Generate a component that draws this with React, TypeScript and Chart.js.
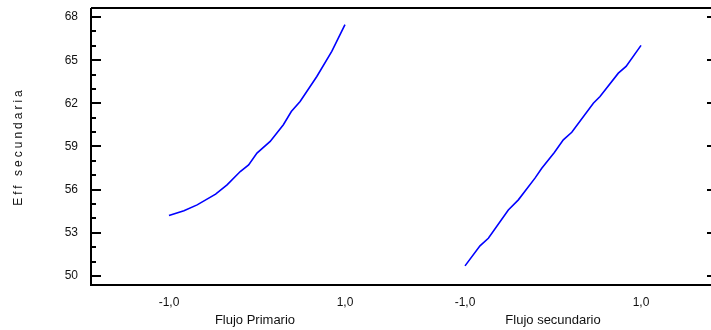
import React, { useEffect, useRef } from "react";
import { Chart, registerables } from "chart.js";

Chart.register(...registerables);

// Factor names and coded levels
const factorNames = ["Flujo Primario", "Flujo secundario"];
const levelTicks = [-1, 1];

// Main effect curves (coded factor level -> Eff secundaria)
const primarioX = [-1, -0.83, -0.68, -0.47, -0.34, -0.19, -0.095, 0.0, 0.15, 0.3, 0.39, 0.49, 0.68, 0.85, 1];
const primarioY = [54.2, 54.54, 54.94, 55.69, 56.33, 57.26, 57.72, 58.54, 59.35, 60.51, 61.43, 62.13, 63.87, 65.61, 67.47];
const secundarioX = [-1, -0.83, -0.735, -0.508, -0.394, -0.205, -0.128, 0.015, 0.117, 0.213, 0.458, 0.534, 0.742, 0.83, 1];
const secundarioY = [50.7, 52.09, 52.62, 54.59, 55.29, 56.8, 57.49, 58.58, 59.46, 59.99, 62.01, 62.48, 64.1, 64.57, 66.03];

// Y axis
const yTicks = [50, 53, 56, 59, 62, 65, 68];
const yMin = 49.37;
const yMax = 68.63;
const yTitle = "Eff secundaria";

// layout of the factor panels along one shared axis
const PANEL_OFFSET = 3.364;
const X_MIN = -1.886;
const X_MAX = 5.159;

const FONT = "'Liberation Sans', Arial, sans-serif";

const fmt = (v: number) => v.toFixed(1).replace(".", ",");

const decorPlugin = {
  id: "decor",
  afterDraw(chart: any) {
    const ctx = chart.ctx as CanvasRenderingContext2D;
    const { left, top, right, bottom } = chart.chartArea;
    const xs = chart.scales.x;
    const ys = chart.scales.y;
    ctx.save();
    ctx.strokeStyle = "#000";
    ctx.lineWidth = 2;
    ctx.beginPath();
    ctx.moveTo(left, top);
    ctx.lineTo(right, top);
    ctx.moveTo(left, top);
    ctx.lineTo(left, bottom);
    ctx.lineTo(right, bottom);
    ctx.stroke();
    // left ticks: majors and minors
    for (let v = Math.ceil(yMin); v <= Math.floor(yMax); v++) {
      const y = Math.round(ys.getPixelForValue(v));
      const major = yTicks.includes(v);
      ctx.beginPath();
      ctx.moveTo(left, y);
      ctx.lineTo(left + (major ? 10 : 5), y);
      ctx.stroke();
    }
    // right ticks
    yTicks.forEach((v) => {
      const y = Math.round(ys.getPixelForValue(v));
      ctx.beginPath();
      ctx.moveTo(right - 4, y);
      ctx.lineTo(right, y);
      ctx.stroke();
    });
    // factor names
    ctx.fillStyle = "#111";
    ctx.font = `13px ${FONT}`;
    ctx.textAlign = "center";
    ctx.textBaseline = "alphabetic";
    factorNames.forEach((name, i) => {
      const x = xs.getPixelForValue(i * PANEL_OFFSET);
      ctx.fillText(name, x - (i === 0 ? 2 : 0), 324);
    });
    // y title
    ctx.translate(22, 148);
    ctx.rotate(-Math.PI / 2);
    ctx.font = `12px ${FONT}`;
    (ctx as any).letterSpacing = "3px";
    ctx.textAlign = "center";
    ctx.fillText(yTitle, 1.5, 0);
    ctx.restore();
  },
};

export default function App() {
  const ref = useRef<HTMLCanvasElement | null>(null);
  useEffect(() => {
    if (!ref.current) return;
    const d1 = primarioX.map((x, i) => ({ x, y: primarioY[i] }));
    const d2 = secundarioX.map((x, i) => ({ x: x + PANEL_OFFSET, y: secundarioY[i] }));
    const chart = new Chart(ref.current, {
      type: "line",
      data: {
        datasets: [
          { label: factorNames[0], data: d1, borderColor: "#0000ff", borderWidth: 1.6, pointRadius: 0, tension: 0 },
          { label: factorNames[1], data: d2, borderColor: "#0000ff", borderWidth: 1.6, pointRadius: 0, tension: 0 },
        ],
      },
      options: {
        animation: false,
        responsive: false,
        devicePixelRatio: 1,
        layout: { padding: { top: 8, right: 0, left: 0, bottom: 0 } },
        plugins: { legend: { display: false }, tooltip: { enabled: false } },
        scales: {
          x: {
            type: "linear",
            min: X_MIN,
            max: X_MAX,
            border: { display: false },
            grid: { display: false, drawTicks: false },
            afterBuildTicks: (scale: any) => {
              const t: any[] = [];
              [0, 1].forEach((i) => levelTicks.forEach((l) => t.push({ value: l + i * PANEL_OFFSET })));
              scale.ticks = t;
            },
            afterFit: (scale: any) => {
              scale.height = 45;
              scale.paddingLeft = 0;
              scale.paddingRight = 0;
            },
            ticks: {
              autoSkip: false,
              maxRotation: 0,
              padding: 10,
              color: "#111",
              font: { family: FONT, size: 12 },
              callback: (v: any) => {
                const n = Number(v);
                const coded = n > PANEL_OFFSET - 2 ? n - PANEL_OFFSET : n;
                return fmt(coded);
              },
            },
          },
          y: {
            type: "linear",
            min: yMin,
            max: yMax,
            border: { display: false },
            grid: { display: false, drawTicks: false },
            afterBuildTicks: (scale: any) => {
              scale.ticks = yTicks.map((v) => ({ value: v }));
            },
            afterFit: (scale: any) => {
              scale.width = 91;
              scale.paddingTop = 0;
              scale.paddingBottom = 0;
            },
            ticks: {
              padding: 13,
              color: "#111",
              font: { family: FONT, size: 12 },
              callback: (v: any) => String(v),
            },
          },
        },
      },
      plugins: [decorPlugin],
    } as any);
    return () => chart.destroy();
  }, []);
  return (
    <div style={{ position: "fixed", left: 0, top: 0, width: 711, height: 330, background: "#fff" }}>
      <canvas ref={ref} width={711} height={330} style={{ width: 711, height: 330, display: "block" }} />
    </div>
  );
}
